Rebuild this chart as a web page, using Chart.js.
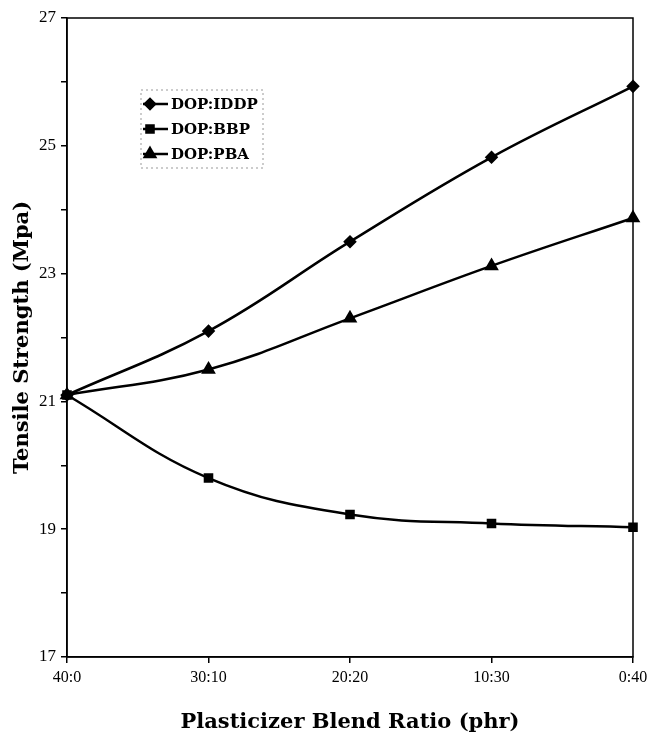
<!DOCTYPE html>
<html>
<head>
<meta charset="utf-8">
<script src="https://cdn.jsdelivr.net/npm/chart.js@4"></script>
<style>
  html, body { margin: 0; padding: 0; background: #fff; }
  #wrap { width: 662px; height: 735px; }
</style>
</head>
<body>
<div id="wrap"><canvas id="tensileChart"></canvas></div>
<script>
const blendRatios = ['40:0', '30:10', '20:20', '10:30', '0:40'];
const iddpValues = [21.1, 22.1, 23.5, 24.82, 25.93];
const bbpValues = [21.1, 19.8, 19.23, 19.09, 19.03];
const pbaValues = [21.1, 21.5, 22.3, 23.12, 23.87];
const yLabelTicks = [17, 19, 21, 23, 25, 27];

const serif = '"Liberation Serif", serif';
const boldSerif = '"DejaVu Serif", serif';

// box around the plot + legend inside the plot
const framePlugin = {
    id: 'frame',
    afterDraw(chart) {
        const { ctx, chartArea: a } = chart;
        ctx.save();
        ctx.strokeStyle = '#000';
        ctx.lineWidth = 1.5;
        ctx.strokeRect(a.left, a.top, a.right - a.left, a.bottom - a.top);

        // legend
        const bx = a.left + 74, by = a.top + 72, bw = 122, bh = 78;
        ctx.setLineDash([2, 3]);
        ctx.strokeStyle = '#999';
        ctx.lineWidth = 1;
        ctx.strokeRect(bx, by, bw, bh);
        ctx.setLineDash([]);
        chart.data.datasets.forEach((ds, i) => {
            const y = by + 14 + i * 25;
            ctx.strokeStyle = '#000';
            ctx.lineWidth = 2.5;
            ctx.beginPath();
            ctx.moveTo(bx + 2, y);
            ctx.lineTo(bx + 27, y);
            ctx.stroke();
            Chart.helpers.drawPoint(ctx, {
                pointStyle: ds.pointStyle,
                radius: ds.pointRadius,
                borderWidth: 1
            }, bx + 9, y);
            ctx.fillStyle = '#000';
            ctx.font = 'bold 15px ' + boldSerif;
            ctx.textBaseline = 'middle';
            ctx.fillText(ds.label, bx + 30, y + 1);
        });
        ctx.restore();
    }
};

const lineStyle = {
    borderColor: '#000',
    backgroundColor: '#000',
    pointBorderColor: '#000',
    pointBackgroundColor: '#000',
    borderWidth: 2.5,
    tension: 0.4,
    fill: false
};

new Chart(document.getElementById('tensileChart'), {
    type: 'line',
    data: {
        labels: blendRatios,
        datasets: [
            Object.assign({ label: 'DOP:IDDP', data: iddpValues, pointStyle: 'rectRot', pointRadius: 5 }, lineStyle),
            Object.assign({ label: 'DOP:BBP', data: bbpValues, pointStyle: 'rect', pointRadius: 5 }, lineStyle),
            Object.assign({ label: 'DOP:PBA', data: pbaValues, pointStyle: 'triangle', pointRadius: 6 }, lineStyle)
        ]
    },
    options: {
        responsive: true,
        maintainAspectRatio: false,
        animation: false,
        layout: { padding: { top: 18, right: 29, left: 0, bottom: 0 } },
        plugins: {
            legend: { display: false },
            tooltip: { enabled: false }
        },
        scales: {
            x: {
                offset: false,
                grid: { drawOnChartArea: false, drawTicks: true, tickLength: 6, color: '#000', lineWidth: 1.5 },
                border: { color: '#000', width: 1.5 },
                ticks: { color: '#000', font: { family: serif, size: 16 }, padding: 5, maxRotation: 0 },
                title: {
                    display: true,
                    text: 'Plasticizer Blend Ratio (phr)',
                    color: '#000',
                    font: { family: boldSerif, size: 21, weight: 'bold' },
                    padding: { top: 13, bottom: 0 }
                },
                afterFit(scale) { scale.height = 78; }
            },
            y: {
                min: 17,
                max: 27,
                grid: {
                    drawOnChartArea: false,
                    drawTicks: true,
                    color: '#000',
                    lineWidth: 1.5,
                    tickLength: 6
                },
                border: { color: '#000', width: 1.5 },
                ticks: {
                    stepSize: 1,
                    color: '#000',
                    font: { family: serif, size: 17 },
                    padding: 5,
                    callback: v => yLabelTicks.includes(v) ? String(v) : ''
                },
                title: {
                    display: true,
                    text: 'Tensile Strength (Mpa)',
                    color: '#000',
                    font: { family: boldSerif, size: 21, weight: 'bold' },
                    padding: { top: 10, bottom: 0 }
                },
                afterFit(scale) { scale.width = 67; }
            }
        }
    },
    plugins: [framePlugin]
});
</script>
</body>
</html>
